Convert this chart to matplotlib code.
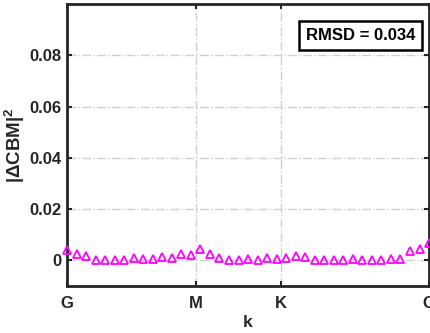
import numpy as np
import matplotlib
matplotlib.use('Agg')
import matplotlib.pyplot as plt

plt.rcParams['font.family'] = 'Liberation Sans'
plt.rcParams['font.weight'] = 'bold'
plt.rcParams['mathtext.fontset'] = 'custom'
plt.rcParams['mathtext.rm'] = 'Liberation Sans:bold'
plt.rcParams['mathtext.bf'] = 'Liberation Sans:bold'
plt.rcParams['mathtext.it'] = 'Liberation Sans:bold'

# k-path points (index along path) and |dCBM|^2 values
k_index = np.arange(39)
dcbm_sq = [0.0039, 0.0024, 0.0016, 0.0003, 0.0003, 0.0003, 0.0003, 0.0009, 0.0005, 0.0005,
           0.0013, 0.0008, 0.0024, 0.0021, 0.0046, 0.0026, 0.0009, 0.0003, 0.0003, 0.0004,
           0.0003, 0.0009, 0.0007, 0.0010, 0.0017, 0.0013, 0.0003, 0.0003, 0.0003, 0.0003,
           0.0005, 0.0003, 0.0003, 0.0003, 0.0005, 0.0006, 0.0037, 0.0046, 0.0068]

k_ticks = [0, 13.57, 22.45, 38]
k_labels = ['G', 'M', 'K', 'G']
y_ticks = [0, 0.02, 0.04, 0.06, 0.08]
y_labels = ['0', '0.02', '0.04', '0.06', '0.08']
rmsd_text = 'RMSD = 0.034'

fig = plt.figure(figsize=(4.31, 3.33), dpi=100)
ax = fig.add_axes([0.1555, 0.141, 0.84, 0.847])

ax.plot(k_index, dcbm_sq, linestyle='none', marker='^', markersize=5.5,
        markerfacecolor='none', markeredgecolor='#ff00ff', markeredgewidth=1.3,
        clip_on=False, zorder=3)

ax.set_xlim(0, 38)
ax.set_ylim(-0.01, 0.1)
ax.set_xticks(k_ticks)
ax.set_xticklabels(k_labels)
ax.set_yticks(y_ticks)
ax.set_yticklabels(y_labels)

ax.grid(True, linestyle='-.', color='#d0d0d0', linewidth=1.0)
for s in ax.spines.values():
    s.set_linewidth(2.0)
    s.set_color('#262626')
ax.tick_params(axis='both', direction='in', length=3.6, width=1.5, color='#262626',
               labelsize=12, labelcolor='#262626', top=True, right=True)
ax.tick_params(axis='x', pad=7)
ax.tick_params(axis='y', pad=4)

ax.set_xlabel('k', fontsize=12.5, fontweight='bold', color='#262626', labelpad=3)
ax.set_ylabel(r'|$\Delta$CBM|$^2$', fontsize=13.5, fontweight='bold', color='#262626', labelpad=2)

ax.text(0.962, 0.89, rmsd_text, transform=ax.transAxes, ha='right', va='center',
        fontsize=12, fontweight='bold', color='black',
        bbox=dict(boxstyle='square,pad=0.42', facecolor='white', edgecolor='black', linewidth=1.8))

fig.savefig('out.png', dpi=100)
